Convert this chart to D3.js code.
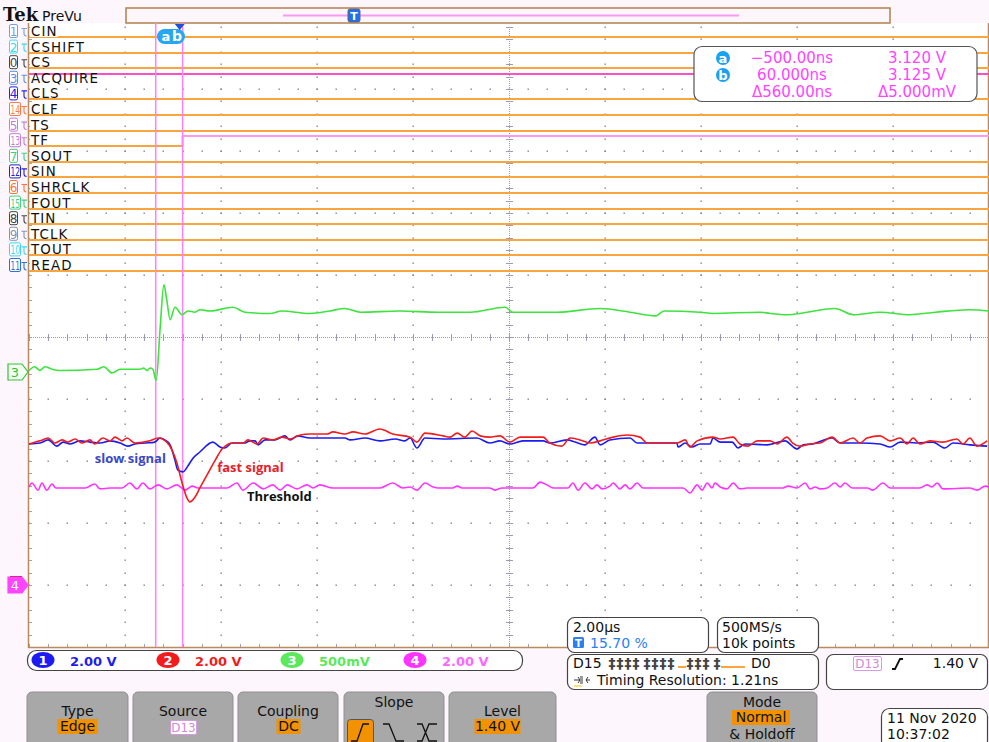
<!DOCTYPE html>
<html>
<head>
<meta charset="utf-8">
<script src="https://cdn.jsdelivr.net/npm/d3@7"></script>
<style>
  body { margin: 0; background: #fdf6fd; }
  svg { display: block; font-family: "DejaVu Sans", sans-serif; }
</style>
</head>
<body>
<div id="plot"></div>

<script>
  // ---------- values ----------
  var timePerDiv = 2;            // µs / div
  var triggerPct = 15.70;
  var sampleRate = "500MS/s", recordLength = "10k points", timingRes = "1.21ns";

  var chNames = ["1", "2", "3", "4"];
  var chVoltsPerDiv = [2, 2, 0.5, 2];
  var chScaleLabels = ["2.00 V", "2.00 V", "500mV", "2.00 V"];

  // [time µs, volts]
  var ch1Data = [[-3.14,4.55],[-2.91,4.58],[-2.74,4.68],[-2.56,4.48],[-2.43,4.61],[-2.29,4.55],[-2.08,4.65],[-1.87,4.61],
    [-1.66,4.58],[-1.45,4.65],[-1.24,4.58],[-1.08,4.48],[-0.93,4.55],[-0.72,4.58],[-0.52,4.61],[-0.41,4.74],[-0.31,4.68],
    [-0.20,4.52],[-0.10,4.03],[-0.04,3.71],[0.07,3.65],[0.17,3.84],[0.28,4.10],[0.42,4.29],[0.69,4.61],[0.84,4.45],
    [0.94,4.42],[1.09,4.58],[1.36,4.58],[1.46,4.65],[1.57,4.65],[1.63,4.52],[1.78,4.68],[1.99,4.68],[2.19,4.81],[2.30,4.68],
    [2.46,4.81],[2.71,4.74],[3.44,4.74],[3.55,4.68],[3.86,4.74],[4.17,4.65],[4.49,4.71],[4.69,4.65],[4.80,4.74],[4.94,4.42],
    [5.11,4.74],[5.49,4.71],[6.19,4.74],[6.46,4.58],[6.67,4.65],[6.88,4.55],[7.15,4.65],[7.57,4.65],[7.71,4.58],[8.07,4.68],
    [8.24,4.61],[8.44,4.52],[8.65,4.77],[8.76,4.52],[8.96,4.68],[9.38,4.74],[9.53,4.58],[10.36,4.58],[10.38,4.45],[10.53,4.58],
    [10.67,4.45],[10.84,4.55],[11.05,4.55],[11.11,4.74],[11.26,4.61],[11.51,4.61],[11.63,4.42],[11.78,4.55],[12.24,4.52],
    [12.61,4.65],[12.86,4.39],[12.99,4.52],[13.19,4.55],[13.59,4.74],[13.76,4.58],[14.17,4.58],[14.59,4.55],[14.80,4.45],
    [15.01,4.61],[15.36,4.58],[15.69,4.61],[15.94,4.42],[16.11,4.58],[16.46,4.52],[16.82,4.48]];

  var ch2Data = [[-3.14,4.55],[-2.91,4.65],[-2.74,4.74],[-2.60,4.58],[-2.45,4.68],[-2.33,4.61],[-2.18,4.71],[-2.04,4.58],
    [-1.87,4.68],[-1.77,4.55],[-1.60,4.74],[-1.45,4.65],[-1.35,4.77],[-1.20,4.65],[-1.10,4.74],[-0.93,4.58],[-0.62,4.65],
    [-0.45,4.74],[-0.27,4.61],[-0.16,4.35],[-0.06,3.94],[0.05,3.29],[0.15,2.81],[0.21,2.68],[0.32,2.84],[0.42,3.13],
    [0.57,3.55],[0.74,4.03],[0.90,4.42],[1.11,4.58],[1.32,4.58],[1.42,4.68],[1.61,4.55],[1.74,4.74],[1.94,4.68],[2.13,4.77],
    [2.30,4.71],[2.51,4.84],[2.71,4.87],[3.07,4.87],[3.19,4.94],[3.44,4.87],[3.61,4.94],[3.86,4.87],[4.17,5.03],[4.44,4.87],
    [4.80,4.77],[4.94,4.61],[5.11,4.90],[5.49,4.81],[5.63,4.77],[5.78,4.90],[5.94,4.77],[6.09,4.97],[6.26,4.81],[6.46,4.77],
    [6.67,4.81],[6.88,4.61],[7.09,4.77],[7.57,4.77],[7.71,4.58],[7.96,4.48],[8.13,4.74],[8.34,4.68],[8.55,4.58],[8.76,4.65],
    [9.03,4.77],[9.32,4.84],[9.59,4.77],[9.74,4.58],[10.36,4.58],[10.53,4.68],[10.63,4.45],[10.78,4.65],[11.11,4.77],
    [11.26,4.71],[11.53,4.77],[11.67,4.55],[11.84,4.48],[12.03,4.65],[12.30,4.65],[12.45,4.55],[12.65,4.77],[12.77,4.58],
    [12.92,4.48],[13.13,4.55],[13.34,4.58],[13.59,4.77],[13.76,4.58],[14.03,4.74],[14.17,4.58],[14.32,4.74],[14.59,4.81],
    [14.80,4.65],[15.01,4.74],[15.15,4.55],[15.28,4.74],[15.42,4.55],[15.63,4.65],[15.90,4.61],[16.19,4.71],[16.32,4.55],
    [16.46,4.74],[16.61,4.48],[16.82,4.65]];

  var ch3Data = [[-3.14,0.01],[-3.02,0.04],[-2.91,0.01],[-2.81,0.04],[-2.66,0.02],[-2.49,0.01],[-1.72,0.02],[-1.58,0.04],
    [-1.41,-0.01],[-1.24,0.02],[-0.83,0.02],[-0.75,0.03],[-0.68,0.01],[-0.62,0.03],[-0.56,0.02],[-0.49,-0.07],[-0.41,0.34],
    [-0.33,0.70],[-0.27,0.58],[-0.20,0.42],[-0.10,0.52],[0.05,0.46],[0.17,0.49],[0.32,0.48],[0.42,0.50],[0.63,0.49],
    [1.11,0.52],[1.36,0.48],[1.88,0.47],[2.13,0.49],[2.71,0.47],[3.13,0.49],[3.44,0.51],[3.76,0.48],[4.59,0.49],[5.38,0.48],
    [5.76,0.48],[6.05,0.48],[6.78,0.52],[6.94,0.48],[7.86,0.48],[8.76,0.51],[9.38,0.48],[9.92,0.45],[10.09,0.49],[10.84,0.48],
    [11.11,0.47],[12.09,0.48],[12.30,0.47],[12.67,0.46],[13.65,0.51],[14.03,0.46],[14.59,0.48],[15.21,0.46],[15.74,0.48],
    [16.46,0.50],[16.86,0.49]];

  var ch4Data = [[-3.14,3.16],[-3.08,3.29],[-2.95,3.06],[-2.87,3.29],[-2.77,3.06],[-2.66,3.26],[-2.58,3.13],[-1.97,3.13],
    [-1.77,3.26],[-1.66,3.10],[-1.45,3.13],[-1.20,3.13],[-1.04,3.29],[-0.89,3.10],[-0.77,3.29],[-0.62,3.10],[-0.45,3.23],
    [-0.27,3.10],[-0.06,3.23],[0.11,3.06],[0.26,3.19],[0.38,3.13],[0.99,3.13],[1.19,3.29],[1.32,3.06],[1.53,3.29],[1.74,3.10],
    [1.94,3.23],[2.09,3.06],[2.24,3.23],[2.44,3.10],[2.65,3.23],[2.78,3.13],[2.92,3.23],[3.19,3.13],[4.17,3.13],[4.44,3.29],
    [4.65,3.13],[4.80,3.16],[4.94,3.06],[5.11,3.29],[5.28,3.16],[5.38,3.13],[5.69,3.13],[5.78,3.19],[5.88,3.13],[6.46,3.13],
    [6.57,3.06],[6.71,3.13],[7.36,3.13],[7.51,3.32],[7.65,3.23],[7.78,3.13],[8.09,3.13],[8.19,3.29],[8.30,3.06],[8.44,3.29],
    [8.59,3.10],[8.69,3.23],[8.80,3.10],[8.96,3.19],[9.03,3.29],[9.17,3.10],[9.28,3.23],[9.38,3.10],[9.53,3.29],[9.65,3.13],
    [10.49,3.13],[10.63,2.97],[10.78,3.23],[10.88,3.06],[10.99,3.29],[11.09,3.13],[11.15,3.29],[11.26,3.16],[11.40,3.10],
    [11.53,3.29],[11.67,3.10],[11.82,3.13],[12.57,3.13],[12.67,3.19],[12.86,3.13],[13.03,3.29],[13.13,3.10],[13.24,3.16],
    [13.34,3.10],[13.49,3.13],[13.65,3.29],[13.76,3.16],[13.86,3.29],[14.01,3.13],[14.32,3.13],[14.44,3.06],[14.65,3.29],
    [14.80,3.13],[15.42,3.13],[15.57,3.23],[15.67,3.16],[15.78,3.29],[15.90,3.10],[16.46,3.13],[16.61,3.06],[16.78,3.19],
    [16.86,3.16]];

  var digitalNums  = [1, 2, 0, 3, 4, 14, 5, 13, 7, 12, 6, 15, 8, 9, 10, 11];
  var digitalNames = ["CIN", "CSHIFT", "CS", "ACQUIRE", "CLS", "CLF", "TS", "TF", "SOUT", "SIN", "SHRCLK", "FOUT", "TIN", "TCLK", "TOUT", "READ"];
  var digitalLevel = [0, 0, 0, 1, 0, 0, 0, 0, 0, 0, 0, 0, 0, 0, 0, 0];
  var digitalEdgeTime = [null, null, null, null, null, null, null, 0.06, null, null, null, null, null, null, null, null];

  var cursorTimes = [-0.5, 0.06];      // µs
  var cursorVolts = [3.120, 3.125];    // V

  var annotations = [
    {text: "slow signal", ch: 0, t: -1.77, v: 3.94, color: "#3a48c8"},
    {text: "fast signal", ch: 1, t: 0.78, v: 3.65, color: "#e8202a"},
    {text: "Threshold", ch: 3, t: 1.40, v: 2.71, color: "#111"}
  ];

  var trigSource = "D13", trigLevel = "1.40 V", trigType = "Edge", trigCoupling = "DC", trigMode = "Normal";
  var busStates = "‡‡‡‡ ‡‡‡‡ _‡‡‡ ‡___";
  var dateLines = ["11 Nov 2020", "10:37:02"];

  // ---------- layout ----------
  var W = 989, H = 742;
  var gx0 = 29, gx1 = 989, gy0 = 27, gy1 = 647;
  var divW = (gx1 - gx0) / 10, divH = (gy1 - gy0) / 10;
  var cx = gx0 + 5 * divW, cy = gy0 + 5 * divH;
  var chColors = ["#1c1cf2", "#f21c1c", "#3de43d", "#ff33ff"];
  var chGroundDiv = [4, 4, 0.56, 4];

  var svg = d3.select("#plot").append("svg")
    .attr("width", W).attr("height", H);

  svg.append("rect").attr("width", W).attr("height", H).attr("fill", "#fdf6fd");
  svg.append("rect").attr("x", gx0).attr("y", 23).attr("width", gx1 - gx0).attr("height", gy1 - 23).attr("fill", "#fff");

  var x = d3.scaleLinear()
    .domain([-triggerPct / 100 * 10 * timePerDiv, (1 - triggerPct / 100) * 10 * timePerDiv])
    .range([gx0, gx1]);

  var yScales = chVoltsPerDiv.map(function(vd, i) {
    var g0 = cy + chGroundDiv[i] * divH;
    return d3.scaleLinear().domain([0, vd]).range([g0, g0 - divH]);
  });

  // ---------- graticule ----------
  var grid = svg.append("g");
  var dots = [];
  d3.range(1, 10).forEach(function(i) {
    if (i === 5) return;
    d3.range(0, 51).forEach(function(k) {
      dots.push([gx0 + i * divW, gy0 + k * divH / 5]);
      dots.push([gx0 + k * divW / 5, gy0 + i * divH]);
    });
  });
  grid.selectAll(".dot").data(dots).enter().append("rect")
    .attr("x", function(d) { return Math.round(d[0]) - 0.5; })
    .attr("y", function(d) { return Math.round(d[1]) - 0.5; })
    .attr("width", 1.4).attr("height", 1.4)
    .attr("fill", "#80809c");

  grid.append("line").attr("x1", gx0).attr("x2", gx1).attr("y1", cy + 0.5).attr("y2", cy + 0.5)
    .attr("stroke", "#9c9cb4").attr("stroke-dasharray", "1,1");
  grid.append("line").attr("x1", cx + 0.5).attr("x2", cx + 0.5).attr("y1", gy0).attr("y2", gy1)
    .attr("stroke", "#9c9cb4").attr("stroke-dasharray", "1,1");
  grid.selectAll(".htick").data(d3.range(0, 51)).enter().append("line")
    .attr("x1", function(k) { return Math.round(gx0 + k * divW / 5) + 0.5; })
    .attr("x2", function(k) { return Math.round(gx0 + k * divW / 5) + 0.5; })
    .attr("y1", cy - 3).attr("y2", cy + 4)
    .attr("stroke", "#9c9cb4");
  grid.selectAll(".vtick").data(d3.range(0, 51)).enter().append("line")
    .attr("y1", function(k) { return Math.round(gy0 + k * divH / 5) + 0.5; })
    .attr("y2", function(k) { return Math.round(gy0 + k * divH / 5) + 0.5; })
    .attr("x1", cx - 3).attr("x2", cx + 4)
    .attr("stroke", "#9c9cb4");
  // edge ticks
  grid.selectAll(".btick").data(d3.range(0, 51)).enter().append("line")
    .attr("x1", function(k) { return Math.round(gx0 + k * divW / 5) + 0.5; })
    .attr("x2", function(k) { return Math.round(gx0 + k * divW / 5) + 0.5; })
    .attr("y1", gy1 - 3).attr("y2", gy1)
    .attr("stroke", "#a0a0b8");
  grid.selectAll(".ltick").data(d3.range(0, 51)).enter().append("line")
    .attr("y1", function(k) { return Math.round(gy0 + k * divH / 5) + 0.5; })
    .attr("y2", function(k) { return Math.round(gy0 + k * divH / 5) + 0.5; })
    .attr("x1", gx0).attr("x2", gx0 + 3)
    .attr("stroke", "#a0a0b8");

  svg.append("line").attr("x1", gx0 - 0.5).attr("x2", gx0 - 0.5).attr("y1", 23).attr("y2", gy1 + 1)
    .attr("stroke", "#b98a5c").attr("stroke-width", 1.5);
  svg.append("line").attr("x1", gx0 - 1).attr("x2", gx1).attr("y1", gy1 + 0.5).attr("y2", gy1 + 0.5)
    .attr("stroke", "#b98a5c").attr("stroke-width", 1.5);
  svg.append("line").attr("x1", gx1 - 0.5).attr("x2", gx1 - 0.5).attr("y1", 23).attr("y2", gy1 + 1)
    .attr("stroke", "#b98a5c").attr("stroke-width", 1.5);

  // ---------- top bar ----------
  svg.append("text").attr("x", 3).attr("y", 21).text("Tek")
    .style("font-family", "'DejaVu Serif', serif").style("font-weight", "bold").style("font-size", "18px").attr("fill", "#111");
  svg.append("text").attr("x", 42).attr("y", 21).text("PreVu")
    .style("font-size", "14px").attr("fill", "#111");
  svg.append("rect").attr("x", 126).attr("y", 8).attr("width", 764).attr("height", 15)
    .attr("fill", "#fdf6fd").attr("stroke", "#b0804c").attr("stroke-width", 1.5);
  svg.append("line").attr("x1", 283).attr("x2", 739).attr("y1", 15.5).attr("y2", 15.5)
    .attr("stroke", "#f49cf4").attr("stroke-width", 2);
  svg.append("rect").attr("x", 348).attr("y", 9).attr("width", 12).attr("height", 13).attr("rx", 2)
    .attr("fill", "#1f6ff0").attr("stroke", "#667");
  svg.append("text").attr("x", 354).attr("y", 20).attr("text-anchor", "middle").text("T")
    .style("font-size", "11px").style("font-weight", "bold").attr("fill", "#fff");

  // ---------- digital channels ----------
  var dig = svg.append("g");
  var markerColors = {1: "#7d9fd6", 2: "#34dcef", 0: "#444", 3: "#5b8fe6", 4: "#2424e0", 14: "#ff7a3c", 5: "#c17fd4",
    13: "#c17fd4", 7: "#3fd07e", 12: "#2222c8", 6: "#ff7436", 15: "#3fd07e", 8: "#444", 9: "#8494b6", 10: "#3fd6f2", 11: "#2f6fd6"};

  digitalNames.forEach(function(name, i) {
    var base = 36 + i * 15.6;
    var low = Math.round(base + 1), high = Math.round(base - 9);
    var lvl = digitalLevel[i];
    if (digitalEdgeTime[i] !== null) {
      var ex = x(digitalEdgeTime[i]);
      dig.append("line").attr("x1", gx0).attr("x2", ex).attr("y1", lvl ? high : low).attr("y2", lvl ? high : low)
        .attr("stroke", lvl ? "#ff5fcf" : "#f7a53c").attr("stroke-width", 2);
      dig.append("line").attr("x1", ex).attr("x2", ex).attr("y1", low).attr("y2", high)
        .attr("stroke", "#c8b0c0").attr("stroke-width", 2);
      dig.append("line").attr("x1", ex).attr("x2", gx1).attr("y1", lvl ? low : high).attr("y2", lvl ? low : high)
        .attr("stroke", lvl ? "#f7a53c" : "#ff99ee").attr("stroke-width", 2);
    } else {
      dig.append("line").attr("x1", gx0).attr("x2", gx1).attr("y1", lvl ? high : low).attr("y2", lvl ? high : low)
        .attr("stroke", lvl ? "#ff4fc4" : "#f7a53c").attr("stroke-width", 2);
    }
    var t = dig.append("text").attr("x", 31).attr("y", base).text(name)
      .style("font-size", "13.4px").style("letter-spacing", "1.1px").attr("fill", "#111");
    var bb = t.node().getBBox();
    dig.insert("rect", "text").attr("x", 30).attr("y", base - 11).attr("width", bb.width + 1).attr("height", 12)
      .attr("fill", "#fff");
    // marker box
    var n = digitalNums[i], c = markerColors[n];
    var two = n > 9;
    dig.append("rect").attr("x", 9.5).attr("y", base - 11.5).attr("width", two ? 11 : 8).attr("height", 13).attr("rx", 1.5)
      .attr("fill", "#fff").attr("stroke", c);
    var nt = dig.append("text").attr("x", two ? 10.5 : 13.5).attr("y", base).attr("text-anchor", two ? "start" : "middle").text(n)
      .style("font-size", "12px").attr("fill", c);
    if (two) nt.attr("textLength", 9.5).attr("lengthAdjust", "spacingAndGlyphs");
    // little pulse glyph after the number
    dig.append("path").attr("d", "M21.5," + (base - 7.5) + "h5.5M24," + (base - 7.5) + "v5q0,2.5 2.5,2.5")
      .attr("fill", "none").attr("stroke", c).attr("stroke-width", 1.1);
  });

  // ---------- cursors ----------
  cursorTimes.forEach(function(t) {
    svg.append("line").attr("x1", x(t)).attr("x2", x(t)).attr("y1", 23).attr("y2", gy1)
      .attr("stroke", "#ff80ff").attr("stroke-width", 1.5);
  });

  // ---------- analog traces ----------
  var traces = svg.append("g");
  var chData = [ch1Data, ch2Data, ch3Data, ch4Data];
  [3, 2, 0, 1].forEach(function(i) {
    var line = d3.line()
      .x(function(d) { return x(d[0]); })
      .y(function(d) { return yScales[i](d[1]); })
      .curve(d3.curveMonotoneX);
    traces.append("path").datum(chData[i]).attr("d", line)
      .attr("fill", "none").attr("stroke", chColors[i]).attr("stroke-width", 1.6);
  });

  annotations.forEach(function(a) {
    svg.append("text").attr("x", x(a.t)).attr("y", yScales[a.ch](a.v)).text(a.text)
      .style("font-family", "'Open Sans', sans-serif").style("font-weight", "bold").style("font-size", "13px")
      .attr("fill", a.color);
  });

  // ---------- channel ground markers ----------
  function groundMarker(i, fill, stroke, txtColor) {
    var yy = Math.round(yScales[i](0));
    svg.append("path").attr("d", "M8," + (yy - 8) + "H22L28," + yy + "L22," + (yy + 8) + "H8Z")
      .attr("fill", fill).attr("stroke", stroke).attr("stroke-width", 1.2);
    svg.append("text").attr("x", 15).attr("y", yy + 5).attr("text-anchor", "middle").text(chNames[i])
      .style("font-size", "13px").attr("fill", txtColor);
  }
  groundMarker(2, "#f2fff2", "#38c038", "#38c038");
  svg.append("rect").attr("x", 10).attr("y", yScales[1](0) - 9).attr("width", 12).attr("height", 2).attr("fill", "#a0121a");
  groundMarker(3, "#ff44ff", "#ff44ff", "#fff");

  // cursor handles at the top
  svg.append("rect").attr("x", 157).attr("y", 29).attr("width", 28).attr("height", 15).attr("rx", 7.5).attr("fill", "#29a6f2");
  svg.append("text").attr("x", 166).attr("y", 41).attr("text-anchor", "middle").text("a")
    .style("font-size", "13px").style("font-weight", "bold").attr("fill", "#fff");
  svg.append("text").attr("x", 177).attr("y", 41).attr("text-anchor", "middle").text("b")
    .style("font-size", "14px").style("font-weight", "bold").attr("fill", "#fff");
  svg.append("path").attr("d", "M" + (x(0) - 5) + ",24H" + (x(0) + 5) + "L" + x(0) + ",30Z").attr("fill", "#1d4fd8");

  // ---------- cursor readout ----------
  var fmtT = d3.format(".5r"), fmtV = d3.format(".3f");
  var ro = svg.append("g");
  ro.append("rect").attr("x", 694).attr("y", 46.5).attr("width", 283).attr("height", 55).attr("rx", 8)
    .attr("fill", "#fff").attr("stroke", "#555").attr("stroke-width", 1.2);
  var rows = [
    ["a", fmtT(cursorTimes[0] * 1000) + "ns", fmtV(cursorVolts[0]) + " V"],
    ["b", fmtT(cursorTimes[1] * 1000) + "ns", fmtV(cursorVolts[1]) + " V"],
    [null, "Δ" + fmtT((cursorTimes[1] - cursorTimes[0]) * 1000) + "ns", "Δ" + fmtV((cursorVolts[1] - cursorVolts[0]) * 1000) + "mV"]
  ];
  rows.forEach(function(r, i) {
    var by = 63 + i * 17;
    if (r[0]) {
      ro.append("circle").attr("cx", 723).attr("cy", by - 5).attr("r", 7).attr("fill", "#18a2f0");
      ro.append("text").attr("x", 723).attr("y", by - 0.5).attr("text-anchor", "middle").text(r[0])
        .style("font-size", "13px").style("font-weight", "bold").attr("fill", "#fff");
    }
    ro.append("text").attr("x", 792).attr("y", by).attr("text-anchor", "middle").text(r[1])
      .style("font-size", "15px").attr("fill", "#ff44ff");
    ro.append("text").attr("x", 917).attr("y", by).attr("text-anchor", "middle").text(r[2])
      .style("font-size", "15px").attr("fill", "#ff44ff");
  });

  // ---------- bottom status ----------
  var bot = svg.append("g");
  function box(x0, y0, w, h) {
    return bot.append("rect").attr("x", x0 + 0.5).attr("y", y0 + 0.5).attr("width", w).attr("height", h).attr("rx", 7)
      .attr("fill", "#fff").attr("stroke", "#444").attr("stroke-width", 1.2);
  }
  function txt(x0, y0, s, opts) {
    opts = opts || {};
    return bot.append("text").attr("x", x0).attr("y", y0).text(s)
      .attr("text-anchor", opts.anchor || "start")
      .style("font-size", (opts.size || 14) + "px")
      .style("font-weight", opts.bold ? "bold" : "normal")
      .attr("fill", opts.color || "#111");
  }

  box(27, 650, 495, 20).attr("rx", 9);
  var chXs = [42, 167, 291, 414];
  var chLabelColors = ["#1c1cf2", "#f21c1c", "#5be85b", "#ff66ff"];
  chNames.forEach(function(n, i) {
    bot.append("ellipse").attr("cx", chXs[i] + 1).attr("cy", 660).attr("rx", 11.5).attr("ry", 8).attr("fill", i === 2 ? "#5be85b" : chColors[i]);
    txt(chXs[i] + 1, 665, n, {anchor: "middle", size: 13, bold: true, color: "#fff"});
    txt(chXs[i] + 28, 665.5, chScaleLabels[i], {size: 13, bold: true, color: chLabelColors[i]});
  });

  box(567, 617, 141, 35);
  txt(573, 632, d3.format(".2f")(timePerDiv) + "µs");
  bot.append("rect").attr("x", 573).attr("y", 637).attr("width", 11).attr("height", 11).attr("rx", 1.5).attr("fill", "#2a80f0");
  txt(578.5, 646.5, "T", {anchor: "middle", size: 10, bold: true, color: "#fff"});
  txt(590, 648, d3.format(".2f")(triggerPct) + " %", {color: "#2a80f0"});

  box(717, 617, 101, 35);
  txt(722, 632, sampleRate);
  txt(722, 648, recordLength);

  box(567, 654, 251, 35);
  txt(573, 668, "D15");
  var busX = 608;
  busStates.split("").forEach(function(c) {
    if (c === "‡") {
      txt(busX + 4, 668, "‡", {anchor: "middle", size: 14, bold: true, color: "#444"});
    } else if (c === "_") {
      bot.append("rect").attr("x", busX).attr("y", 666).attr("width", 8).attr("height", 2).attr("fill", "#f7a53c");
    }
    busX += c === " " ? 3 : 8;
  });
  txt(751, 668, "D0");
  bot.append("path").attr("d", "M574,680h6l-2,-3M580,680l-2,3").attr("stroke", "#333").attr("fill", "none");
  bot.append("rect").attr("x", 580).attr("y", 676).attr("width", 3).attr("height", 8).attr("fill", "#999");
  bot.append("path").attr("d", "M590,680h-4l2,-3M586,680l2,3").attr("stroke", "#333").attr("fill", "none");
  bot.append("line").attr("x1", 574).attr("x2", 582).attr("y1", 686).attr("y2", 686).attr("stroke", "#ffd84a").attr("stroke-width", 1.5);
  txt(597, 685, "Timing Resolution: " + timingRes);

  box(826, 654, 161, 35);
  bot.append("rect").attr("x", 853.5).attr("y", 656.5).attr("width", 28).attr("height", 14).attr("rx", 1.5)
    .attr("fill", "#fff").attr("stroke", "#d59ae0");
  txt(867.5, 668, trigSource, {anchor: "middle", size: 12, color: "#d08ad8"});
  bot.append("path").attr("d", "M892,669h3l5,-10h3").attr("stroke", "#111").attr("stroke-width", 1.8).attr("fill", "none");
  txt(978, 668, trigLevel, {anchor: "end"});

  // ---------- soft buttons ----------
  function button(x0, w) {
    bot.append("rect").attr("x", x0).attr("y", 692).attr("width", w).attr("height", 60).attr("rx", 5)
      .attr("fill", "#a8a8a8").attr("stroke", "#8f8f8f");
  }
  function valueTag(cxp, y0, s, w) {
    bot.append("rect").attr("x", cxp - w / 2).attr("y", y0).attr("width", w).attr("height", 15).attr("fill", "#f39200");
    txt(cxp, y0 + 12, s, {anchor: "middle"});
  }
  button(27, 101);  txt(77.5, 716, "Type", {anchor: "middle"});     valueTag(77.5, 719, trigType, 40);
  button(133, 100); txt(183, 716, "Source", {anchor: "middle"});
  bot.append("rect").attr("x", 170.5).attr("y", 720.5).attr("width", 26).attr("height", 14).attr("rx", 1.5)
    .attr("fill", "#fff").attr("stroke", "#d59ae0");
  txt(183.5, 732, trigSource, {anchor: "middle", size: 12, color: "#d08ad8"});
  button(238, 100); txt(288, 716, "Coupling", {anchor: "middle"});  valueTag(288.5, 719, trigCoupling, 24);
  button(344, 100); txt(394, 707, "Slope", {anchor: "middle"});
  bot.append("rect").attr("x", 347.5).attr("y", 719.5).attr("width", 26).attr("height", 28).attr("rx", 3)
    .attr("fill", "#f39200").attr("stroke", "#555");
  bot.append("path").attr("d", "M351,741h6l6,-17h6").attr("stroke", "#111").attr("stroke-width", 1.3).attr("fill", "none");
  bot.append("path").attr("d", "M383,724h6l7,17h8").attr("stroke", "#111").attr("stroke-width", 1.3).attr("fill", "none");
  bot.append("path").attr("d", "M417,724h5l7,17h8M417,741h5l7,-17h8").attr("stroke", "#111").attr("stroke-width", 1.3).attr("fill", "none");
  button(449, 107); txt(502.5, 716, "Level", {anchor: "middle"});   valueTag(497.5, 719, trigLevel, 46);
  button(707, 110); txt(762, 707, "Mode", {anchor: "middle"});
  valueTag(761, 710, trigMode, 58);
  txt(762, 739, "& Holdoff", {anchor: "middle"});

  box(881, 708, 106, 40).attr("rx", 8);
  txt(887, 723, dateLines[0]);
  txt(887, 739, dateLines[1]);
</script>
</body>
</html>
